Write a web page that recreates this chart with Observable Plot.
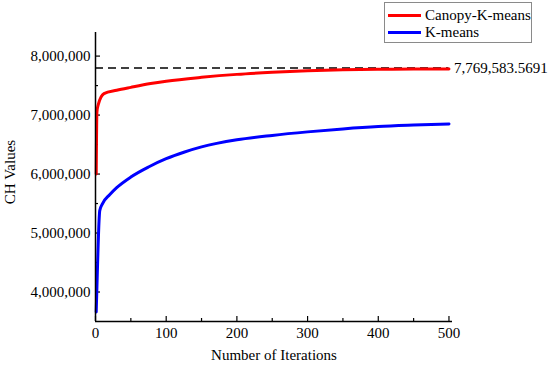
<!DOCTYPE html>
<html>
<head>
<meta charset="utf-8">
<script src="https://cdn.jsdelivr.net/npm/d3@7"></script>
<script src="https://cdn.jsdelivr.net/npm/@observablehq/plot@0.6"></script>
<style>
  body { margin: 0; background: #fff; }
  #wrap { position: relative; width: 550px; height: 366px; font-family: "Liberation Serif", "DejaVu Serif", serif; }
  #legend { position: absolute; left: 384px; top: 2px; width: 146px; height: 39px; border: 1px solid #8a8a8a; background: #fff; font-size: 15px; color: #000; }
  .row { position: absolute; left: 3px; height: 18px; display: flex; align-items: center; }
  .sw { width: 33px; height: 3px; margin-right: 4px; }
  svg text { font-family: "Liberation Serif", "DejaVu Serif", serif; }
</style>
</head>
<body>
<div id="wrap"></div>
<script>
// ---- data ----
const canopyIter = [1, 2, 4, 12, 30, 50, 78, 100, 150, 200, 250, 300, 350, 400, 450, 500];
const canopyCH   = [6000000, 7050000, 7180000, 7365000, 7420000, 7470000, 7535000, 7575000, 7640000, 7690000, 7725000, 7752000, 7768000, 7776000, 7780000, 7783000];
const kmeansIter = [1, 3, 5, 6, 10, 20, 30, 50, 75, 100, 125, 150, 200, 250, 300, 350, 400, 450, 500];
const kmeansCH   = [3660000, 4500000, 5200000, 5380000, 5500000, 5650000, 5770000, 5950000, 6120000, 6260000, 6370000, 6460000, 6580000, 6655000, 6715000, 6765000, 6805000, 6830000, 6850000];
const seriesNames = ["Canopy-K-means", "K-means"];
const seriesColors = ["#ff0000", "#0000ff"];
const refValue = 7800000;
const refLabel = "7,769,583.5691";
const xTicks = [0, 100, 200, 300, 400, 500];
const xMinor = [50, 150, 250, 350, 450];
const yTicks = [4000000, 5000000, 6000000, 7000000, 8000000];
const yMinor = [4500000, 5500000, 6500000, 7500000];
const xTitle = "Number of Iterations";
const yTitle = "CH Values";

const canopy = canopyIter.map((x, i) => ({x, y: canopyCH[i]}));
const kmeans = kmeansIter.map((x, i) => ({x, y: kmeansCH[i]}));

const W = 550, H = 366, mL = 95, mR = 98, mT = 32, mB = 45;
const pw = W - mL - mR, ph = H - mT - mB;
const font = "'Liberation Serif', 'DejaVu Serif', serif";

const chart = Plot.plot({
  width: W, height: H,
  marginLeft: mL, marginRight: mR, marginTop: mT, marginBottom: mB,
  style: {fontFamily: font, fontSize: "15px", color: "#000", background: "#fff"},
  x: {domain: [0, 505]},
  y: {domain: [3500000, 8400000]},
  marks: [
    Plot.axisX(xTicks, {tickSize: 0, tickPadding: 6, label: null, fontSize: 15}),
    Plot.axisY(yTicks, {tickSize: 0, tickPadding: 5, label: null, tickFormat: d3.format(","), fontSize: 15}),
    Plot.tickX(xTicks, {x: d => d, insetTop: ph - 5, stroke: "#000", strokeWidth: 1.2}),
    Plot.tickX(xMinor, {x: d => d, insetTop: ph - 3, stroke: "#000", strokeWidth: 1.2}),
    Plot.tickY(yTicks, {y: d => d, insetRight: pw - 5, stroke: "#000", strokeWidth: 1.2}),
    Plot.tickY(yMinor, {y: d => d, insetRight: pw - 3, stroke: "#000", strokeWidth: 1.2}),
    Plot.ruleY([refValue], {x1: 0, x2: 500, stroke: "#000", strokeWidth: 1.5, strokeDasharray: "8,5"}),
    Plot.line(kmeans, {x: "x", y: "y", stroke: seriesColors[1], strokeWidth: 3, curve: "monotone-x"}),
    Plot.line(canopy, {x: "x", y: "y", stroke: seriesColors[0], strokeWidth: 3, curve: "monotone-x"}),
    Plot.ruleX([0], {stroke: "#000", strokeWidth: 1.5}),
    Plot.ruleY([3500000], {stroke: "#000", strokeWidth: 1.5}),
    Plot.text([refLabel], {x: 500, y: refValue, text: d => d, textAnchor: "start", dx: 5, fontSize: 15}),
    Plot.text([xTitle], {frameAnchor: "bottom", dy: 38, text: d => d, fontSize: 15}),
    Plot.text([yTitle], {frameAnchor: "left", textAnchor: "middle", dx: -85, dy: -5, rotate: -90, text: d => d, fontSize: 15})
  ]
});

const wrap = document.getElementById("wrap");
wrap.appendChild(chart);
const legend = document.createElement("div");
legend.id = "legend";
seriesNames.forEach((name, i) => {
  const row = document.createElement("div");
  row.className = "row";
  row.style.top = (i === 0 ? 3 : 20) + "px";
  const sw = document.createElement("div");
  sw.className = "sw";
  sw.style.background = seriesColors[i];
  const t = document.createElement("span");
  t.textContent = name;
  row.appendChild(sw); row.appendChild(t);
  legend.appendChild(row);
});
wrap.appendChild(legend);
</script>
</body>
</html>
